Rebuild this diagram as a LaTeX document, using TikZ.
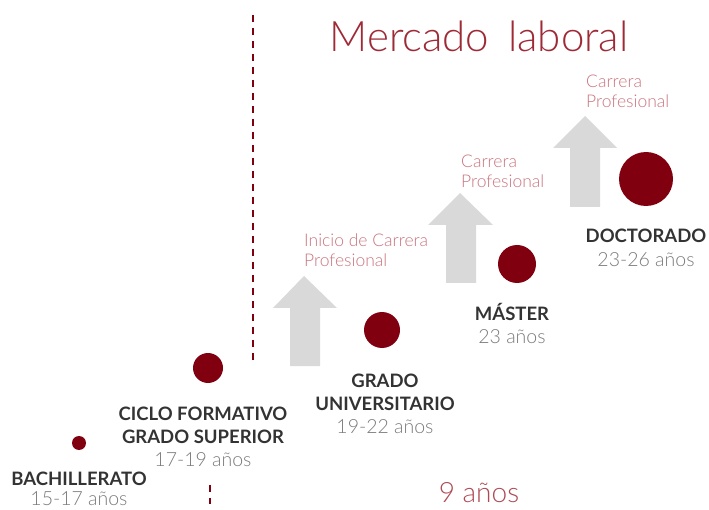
\documentclass[tikz,border=0pt]{standalone}
\usepackage{fontspec}
\setmainfont{Lato Light}[BoldFont={Lato Bold}]
\definecolor{dotred}{HTML}{80000F}
\definecolor{titlered}{HTML}{9E2A36}
\definecolor{pinkred}{HTML}{C9737E}
\definecolor{arrowgray}{HTML}{D9D9D9}
\definecolor{labeldark}{HTML}{333333}
\definecolor{yeargray}{HTML}{7A7A7A}
\tikzset{
  dot/.style={circle, fill=dotred, draw=none, inner sep=0pt},
  stage/.style={font=\bfseries\fontsize{18.5}{23}\selectfont, text=labeldark, anchor=base, inner sep=0pt},
  years/.style={font=\fontsize{19.5}{23}\selectfont, text=yeargray, anchor=base, inner sep=0pt},
  career/.style={font=\fontsize{17.5}{20}\selectfont, text=pinkred, anchor=base west, inner sep=0pt},
  uparrow/.style={fill=arrowgray, draw=none},
  divider/.style={draw=dotred, line width=2pt, dash pattern=on 7pt off 6pt}
}
\begin{document}
\begin{tikzpicture}[x=1pt,y=-1pt]
\useasboundingbox (0,0) rectangle (709,510);
% title
\node[font=\fontsize{42}{48}\selectfont, text=titlered, anchor=base, inner sep=0pt] (title) at (479,52) {Mercado\hspace{0.45em}laboral};
% dashed dividers
\coordinate (d1a) at (253,15);
\coordinate (d1b) at (253,362);
\draw[divider] (d1a) -- (d1b);
\coordinate (d2a) at (210,485);
\coordinate (d2b) at (210,504);
\draw[divider] (d2a) -- (d2b);
% arrows
\fill[uparrow] (304,276) -- (337,308) -- (320,308) -- (320,366) -- (290,366) -- (290,308) -- (273,308) -- cycle;
\fill[uparrow] (460,193) -- (493,225) -- (476,225) -- (476,283) -- (446,283) -- (446,225) -- (428,225) -- cycle;
\fill[uparrow] (585,116) -- (617,148) -- (600,148) -- (600,207) -- (570,207) -- (570,148) -- (553,148) -- cycle;
% career labels
\node[career] (c1a) at (304,247) {Inicio de Carrera};
\node[career] (c1b) at (304,267) {Profesional};
\node[career] (c2a) at (461,168) {Carrera};
\node[career] (c2b) at (461,188) {Profesional};
\node[career] (c3a) at (586,88) {Carrera};
\node[career] (c3b) at (586,108) {Profesional};
% dots
\node[dot, minimum size=14pt] (bach) at (79,443) {};
\node[dot, minimum size=30pt] (ciclo) at (208,368) {};
\node[dot, minimum size=36pt] (grado) at (382,330) {};
\node[dot, minimum size=38pt] (master) at (517,264) {};
\node[dot, minimum size=54pt] (doct) at (646,179) {};
% stage labels
\node[stage] (bachl) at (79,485) {BACHILLERATO};
\node[years] (bachy) at (79,505) {15-17 años};
\node[stage] (ciclol1) at (203,420) {CICLO FORMATIVO};
\node[stage] (ciclol2) at (203,443) {GRADO SUPERIOR};
\node[years] (cicloy) at (203,466) {17-19 años};
\node[stage] (gradol1) at (385,387) {GRADO};
\node[stage] (gradol2) at (385,410) {UNIVERSITARIO};
\node[years] (gradoy) at (385,433) {19-22 años};
\node[stage] (masterl) at (512,320) {MÁSTER};
\node[years] (mastery) at (512,343) {23 años};
\node[stage] (doctl) at (646,243) {DOCTORADO};
\node[years] (docty) at (646,267) {23-26 años};
% duration
\node[font=\fontsize{28}{32}\selectfont, text=titlered!85, anchor=base, inner sep=0pt] (dur) at (479,502) {9 años};
\end{tikzpicture}
\end{document}
